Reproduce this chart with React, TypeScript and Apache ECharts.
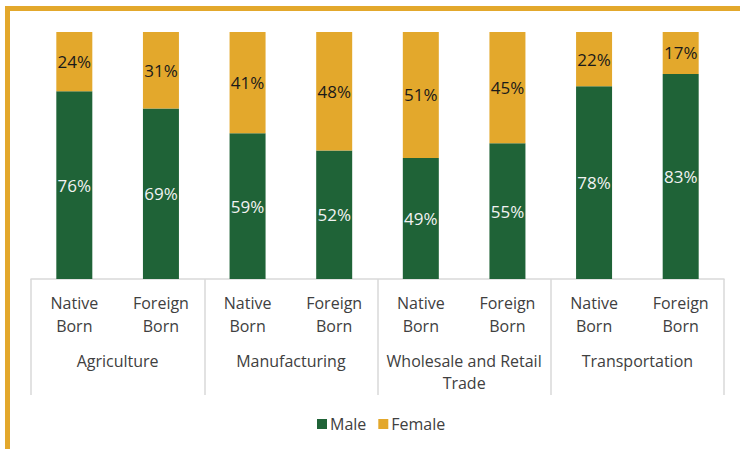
import React, { useEffect, useRef } from "react";
import * as echarts from "echarts";

const groups = ["Agriculture", "Manufacturing", "Wholesale and Retail\nTrade", "Transportation"];
const subCategories = ["Native\nBorn", "Foreign\nBorn", "Native\nBorn", "Foreign\nBorn", "Native\nBorn", "Foreign\nBorn", "Native\nBorn", "Foreign\nBorn"];
const maleValues = [76, 69, 59, 52, 49, 55, 78, 83];
const femaleValues = [24, 31, 41, 48, 51, 45, 22, 17];

const GREEN = "#1F6337";
const GOLD = "#E3A82C";
const FONT = "'Open Sans', 'Noto Sans', sans-serif";

export default function App() {
  const ref = useRef<HTMLDivElement>(null);
  useEffect(() => {
    if (!ref.current) return;
    const chart = echarts.init(ref.current, null, { renderer: "svg" });
    chart.setOption({
      animation: false,
      backgroundColor: "#ffffff",
      textStyle: { fontFamily: FONT },
      graphic: [
        { type: "rect", shape: { x: 5, y: 6, width: 735, height: 5 }, style: { fill: GOLD }, silent: true },
        { type: "rect", shape: { x: 5, y: 6, width: 5, height: 443 }, style: { fill: GOLD }, silent: true },
      ],
      legend: {
        data: ["Male", "Female"],
        left: 312,
        top: 411,
        itemWidth: 10,
        itemHeight: 10,
        itemGap: 12,
        icon: "rect",
        textStyle: { fontSize: 16, color: "#404040", fontFamily: FONT, padding: [0, 0, 0, -2] },
      },
      grid: { left: 31, right: 16, top: 32, bottom: 170 },
      xAxis: [
        {
          type: "category",
          data: subCategories,
          position: "bottom",
          axisLine: { show: true, lineStyle: { color: "#D9D9D9", width: 1.5 } },
          axisTick: { show: false },
          axisLabel: {
            interval: 0,
            margin: 12,
            fontSize: 16,
            lineHeight: 23,
            color: "#404040",
            fontFamily: FONT,
          },
        },
        {
          type: "category",
          data: groups,
          position: "bottom",
          axisLine: { show: false },
          axisTick: { show: true, length: 116, inside: false, lineStyle: { color: "#D9D9D9", width: 1.5 } },
          axisLabel: {
            interval: 0,
            margin: 71,
            fontSize: 16,
            lineHeight: 22,
            color: "#404040",
            fontFamily: FONT,
          },
        },
      ],
      yAxis: { type: "value", min: 0, max: 100, show: false, splitLine: { show: false } },
      series: [
        {
          name: "Male",
          type: "bar",
          stack: "total",
          xAxisIndex: 0,
          barWidth: 36,
          data: maleValues,
          itemStyle: { color: GREEN },
          label: {
            show: true,
            position: "inside",
            formatter: "{c}%",
            fontSize: 17,
            color: "#F2F2F2",
            fontFamily: FONT,
          },
        },
        {
          name: "Female",
          type: "bar",
          stack: "total",
          xAxisIndex: 0,
          barWidth: 36,
          data: femaleValues,
          itemStyle: { color: GOLD },
          label: {
            show: true,
            position: "inside",
            formatter: "{c}%",
            fontSize: 17,
            color: "#1A1A1A",
            fontFamily: FONT,
          },
        },
      ],
    });
    return () => chart.dispose();
  }, []);
  return (
    <div
      ref={ref}
      style={{ position: "absolute", left: 0, top: 0, width: 740, height: 449 }}
    />
  );
}
